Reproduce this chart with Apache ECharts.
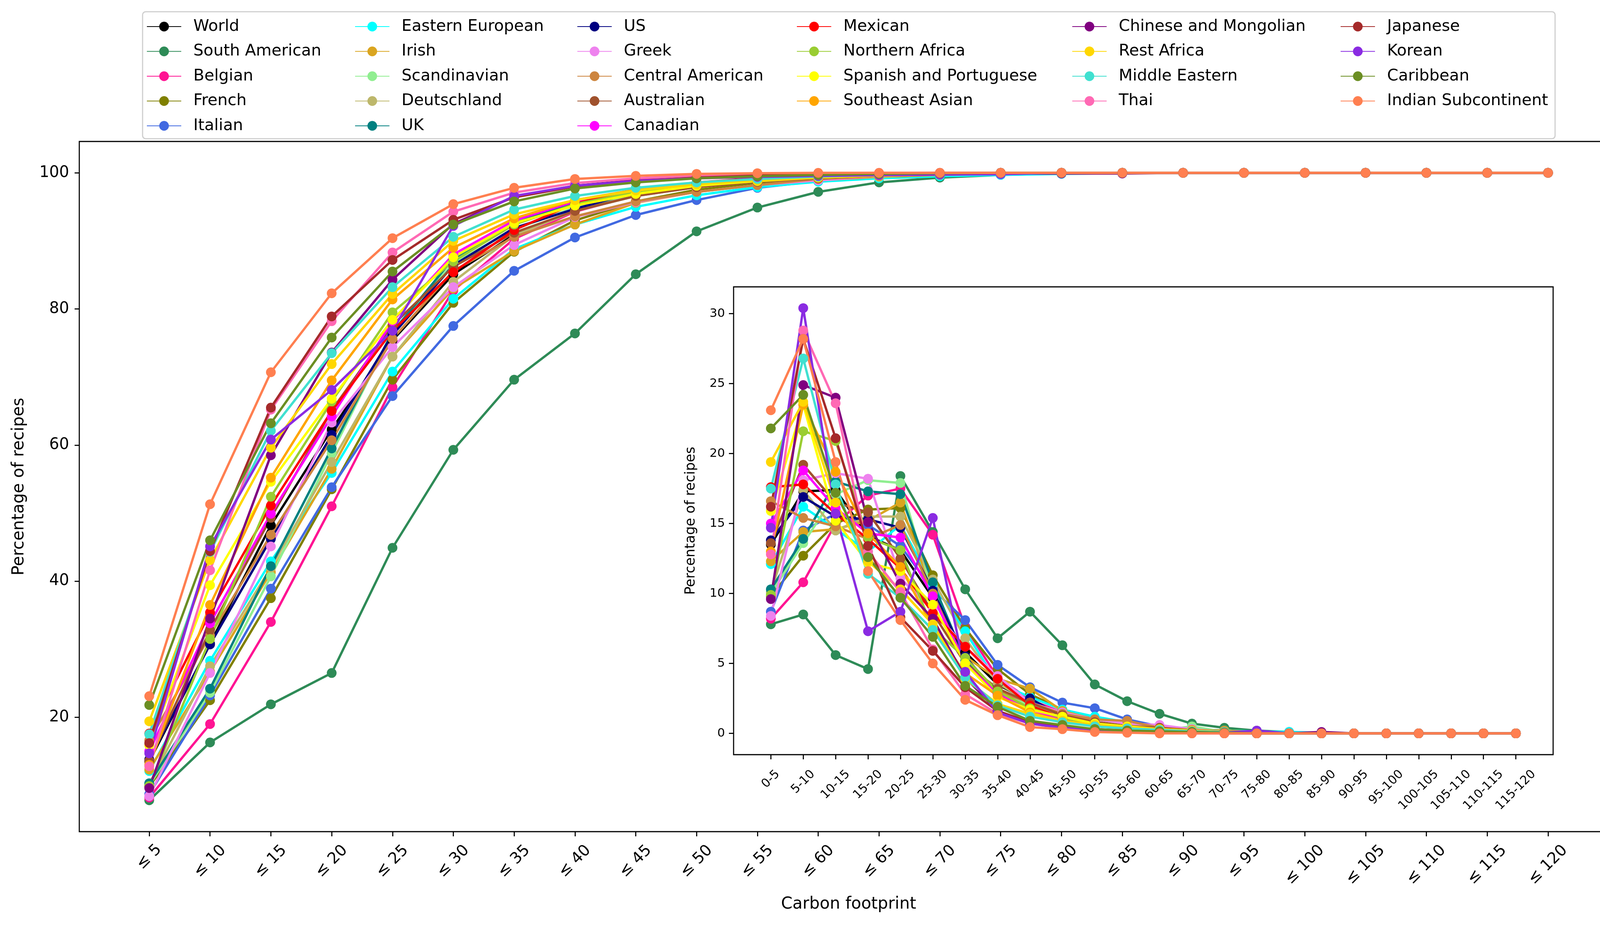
<!DOCTYPE html>
<html>
<head>
<meta charset="utf-8">
<script src="https://cdn.jsdelivr.net/npm/echarts@6/dist/echarts.min.js"></script>
<style>
html, body { margin: 0; padding: 0; background: #fff; }
#chart { width: 4172px; height: 2372px; }
</style>
</head>
<body>
<div id="chart"></div>
<script>
// x categories of the two panels
const cumLabels = ['≤ 5','≤ 10','≤ 15','≤ 20','≤ 25','≤ 30','≤ 35','≤ 40','≤ 45','≤ 50','≤ 55','≤ 60',
  '≤ 65','≤ 70','≤ 75','≤ 80','≤ 85','≤ 90','≤ 95','≤ 100','≤ 105','≤ 110','≤ 115','≤ 120'];
const binLabels = ['0-5','5-10','10-15','15-20','20-25','25-30','30-35','35-40','40-45','45-50','50-55','55-60',
  '60-65','65-70','70-75','75-80','80-85','85-90','90-95','95-100','100-105','105-110','110-115','115-120'];
const mainYTicks = [20, 40, 60, 80, 100];
const insetYTicks = [0, 5, 10, 15, 20, 25, 30];

const seriesNames = ['World','South American','Belgian','French','Italian','Eastern European','Irish',
  'Scandinavian','Deutschland','UK','US','Greek','Central American','Australian','Canadian','Mexican',
  'Northern Africa','Spanish and Portuguese','Southeast Asian','Chinese and Mongolian','Rest Africa',
  'Middle Eastern','Thai','Japanese','Korean','Caribbean','Indian Subcontinent'];
const seriesColors = ['#000000','#2E8B57','#FF1493','#808000','#4169E1','#00FFFF','#DAA520',
  '#90EE90','#BDB76B','#008080','#000080','#EE82EE','#CD853F','#A0522D','#FF00FF','#FF0000',
  '#9ACD32','#FFFF00','#FFA500','#800080','#FFD700',
  '#40E0D0','#FF69B4','#A52A2A','#8A2BE2','#6B8E23','#FF7F50'];

// cumulative share of recipes (main panel)
const worldCum   = [13.5,30.8,48.2,62.3,75.4,85.1,90.9,94.4,96.7,98.1,98.9,99.4,99.7,99.85,99.95,100,100,100,100,100,100,100,100,100];
const saCum      = [7.8,16.3,21.9,26.5,44.9,59.3,69.6,76.4,85.1,91.4,94.9,97.2,98.6,99.3,99.7,99.9,100,100,100,100,100,100,100,100];
const belgianCum = [8.2,19.0,34.0,51.0,68.5,82.7,90.3,94.3,96.7,98.2,99.0,99.5,99.8,99.9,100,100,100,100,100,100,100,100,100,100];
const frenchCum  = [9.8,22.5,37.5,53.5,69.6,80.9,88.4,93.0,95.8,97.5,98.5,99.1,99.5,99.7,99.85,99.95,100,100,100,100,100,100,100,100];
const italianCum = [8.7,23.2,38.9,53.8,67.2,77.5,85.6,90.5,93.8,96.0,97.8,98.8,99.3,99.6,99.8,99.9,100,100,100,100,100,100,100,100];
const eastCum    = [12.1,28.3,42.9,55.9,70.8,81.5,88.8,92.4,95.0,96.7,97.9,98.7,99.2,99.5,99.7,99.85,99.95,100,100,100,100,100,100,100];
const irishCum   = [12.3,26.7,41.3,56.5,73.0,83.0,88.5,92.4,95.6,97.2,98.2,98.9,99.4,99.7,99.9,100,100,100,100,100,100,100,100,100];
const scandCum   = [10.0,23.6,40.7,58.8,76.7,86.7,91.7,94.9,96.9,98.2,98.9,99.2,99.4,99.9,100,100,100,100,100,100,100,100,100,100];
const deutschCum = [10.1,27.5,42.0,57.5,73.0,84.0,90.8,94.4,96.6,97.9,98.7,99.2,99.6,99.8,99.9,100,100,100,100,100,100,100,100,100];
const ukCum      = [10.3,24.2,42.2,59.5,76.6,87.4,92.6,95.6,97.4,98.5,99.1,99.5,99.75,99.9,100,100,100,100,100,100,100,100,100,100];
const usCum      = [13.8,30.7,46.2,61.5,76.2,86.4,91.9,94.7,97.2,98.4,99.1,99.5,99.75,99.9,100,100,100,100,100,100,100,100,100,100];
const greekCum   = [8.4,26.5,45.1,63.3,74.4,83.2,89.4,93.5,95.7,97.2,98.2,98.9,99.5,99.8,99.9,100,100,100,100,100,100,100,100,100];
const centralCum = [16.6,32.0,46.8,60.7,75.6,85.6,90.6,93.6,95.8,97.2,98.2,99.1,99.5,99.75,99.9,100,100,100,100,100,100,100,100,100];
const austCum    = [13.6,32.8,49.3,65.1,77.6,86.2,91.2,94.4,96.6,97.9,98.7,99.2,99.6,99.8,99.9,100,100,100,100,100,100,100,100,100];
const canCum     = [15.0,33.8,49.9,64.2,78.2,88.0,93.0,95.8,97.5,98.5,99.1,99.5,99.75,99.9,100,100,100,100,100,100,100,100,100,100];
const mexCum     = [17.6,35.4,51.1,65.0,76.8,85.4,91.6,95.5,97.5,98.6,99.2,99.6,99.8,99.9,100,100,100,100,100,100,100,100,100,100];
const nafCum     = [9.9,31.5,52.4,66.4,79.5,87.0,92.4,95.4,97.2,98.3,99.0,99.45,99.75,99.9,100,100,100,100,100,100,100,100,100,100];
const spanCum    = [15.9,39.4,54.6,66.8,78.4,87.6,92.6,95.2,96.9,98.1,98.8,99.3,99.6,99.8,99.9,100,100,100,100,100,100,100,100,100];
const seaCum     = [13.0,36.5,55.2,69.5,81.4,89.0,93.3,96.0,97.5,98.4,99.0,99.4,99.7,99.85,99.95,100,100,100,100,100,100,100,100,100];
const chinaCum   = [9.6,34.5,58.5,73.6,84.3,92.5,96.5,98.1,98.9,99.3,99.55,99.7,99.8,99.85,99.9,99.9,99.9,100,100,100,100,100,100,100];
const restCum    = [19.4,43.1,59.6,71.9,82.2,90.0,93.9,96.0,97.4,98.3,98.9,99.3,99.6,99.8,99.9,100,100,100,100,100,100,100,100,100];
const meCum      = [17.5,44.3,62.1,73.5,83.2,90.6,94.6,96.6,97.8,98.6,99.1,99.45,99.7,99.85,99.95,100,100,100,100,100,100,100,100,100];
const thaiCum    = [12.8,41.6,65.2,78.2,88.3,94.3,97.1,98.5,99.2,99.6,99.8,99.9,100,100,100,100,100,100,100,100,100,100,100,100];
const japanCum   = [16.2,44.4,65.5,78.9,87.2,93.1,96.4,98.0,98.8,99.3,99.6,99.8,99.9,100,100,100,100,100,100,100,100,100,100,100];
const koreaCum   = [14.7,45.1,60.8,68.1,76.8,92.2,96.6,98.1,98.8,99.2,99.4,99.55,99.65,99.75,99.8,100,100,100,100,100,100,100,100,100];
const caribCum   = [21.8,46.0,63.2,75.8,85.5,92.4,95.8,97.7,98.6,99.2,99.5,99.7,99.85,99.95,100,100,100,100,100,100,100,100,100,100];
const indiaCum   = [23.1,51.3,70.7,82.3,90.4,95.4,97.8,99.1,99.55,99.85,99.95,100,100,100,100,100,100,100,100,100,100,100,100,100];

// share of recipes per 5-unit bin (inset)
const worldBin   = [13.5,17.3,17.4,14.1,13.1,9.7,5.8,3.5,2.3,1.4,0.8,0.5,0.3,0.15,0.1,0.05,0,0,0,0,0,0,0,0];
const saBin      = [7.8,8.5,5.6,4.6,18.4,14.4,10.3,6.8,8.7,6.3,3.5,2.3,1.4,0.7,0.4,0.2,0.1,0,0,0,0,0,0,0];
const belgianBin = [8.2,10.8,15.0,17.0,17.5,14.2,7.6,4.0,2.4,1.5,0.8,0.5,0.3,0.1,0.1,0,0,0,0,0,0,0,0,0];
const frenchBin  = [9.8,12.7,15.0,16.0,16.1,11.3,7.5,4.6,2.8,1.7,1.0,0.6,0.4,0.2,0.15,0.1,0.05,0,0,0,0,0,0,0];
const italianBin = [8.7,14.5,15.7,14.9,13.4,10.3,8.1,4.9,3.3,2.2,1.8,1.0,0.5,0.3,0.2,0.1,0.1,0,0,0,0,0,0,0];
const eastBin    = [12.1,16.2,14.6,13.0,14.9,10.7,7.3,3.6,2.6,1.7,1.2,0.8,0.5,0.3,0.2,0.15,0.1,0.05,0,0,0,0,0,0];
const irishBin   = [12.3,14.4,14.6,15.2,16.5,10.0,5.5,3.9,3.2,1.6,1.0,0.7,0.5,0.3,0.2,0.1,0,0,0,0,0,0,0,0];
const scandBin   = [10.0,13.6,17.1,18.1,17.9,10.0,5.0,3.2,2.0,1.3,0.7,0.3,0.2,0.5,0.1,0,0,0,0,0,0,0,0,0];
const deutschBin = [10.1,17.4,14.5,15.5,15.5,11.0,6.8,3.6,2.2,1.3,0.8,0.5,0.4,0.2,0.1,0.1,0,0,0,0,0,0,0,0];
const ukBin      = [10.3,13.9,18.0,17.3,17.1,10.8,5.2,3.0,1.8,1.1,0.6,0.4,0.25,0.15,0.1,0,0,0,0,0,0,0,0,0];
const usBin      = [13.8,16.9,15.5,15.3,14.7,10.2,5.5,2.8,2.5,1.2,0.7,0.4,0.25,0.15,0.1,0,0,0,0,0,0,0,0,0];
const greekBin   = [8.4,18.1,18.6,18.2,11.1,8.8,6.2,4.1,2.2,1.5,1.0,0.7,0.6,0.3,0.1,0.1,0,0,0,0,0,0,0,0];
const centralBin = [16.6,15.4,14.8,13.9,14.9,10.0,5.0,3.0,2.2,1.4,1.0,0.9,0.4,0.25,0.15,0.1,0,0,0,0,0,0,0,0];
const austBin    = [13.6,19.2,16.5,15.8,12.5,8.6,5.0,3.2,2.2,1.3,0.8,0.5,0.4,0.2,0.1,0.1,0,0,0,0,0,0,0,0];
const canBin     = [15.0,18.8,16.1,14.3,14.0,9.8,5.0,2.8,1.7,1.0,0.6,0.4,0.25,0.15,0.1,0,0,0,0,0,0,0,0,0];
const mexBin     = [17.6,17.8,15.7,13.9,11.8,8.6,6.2,3.9,2.0,1.1,0.6,0.4,0.2,0.1,0.1,0,0,0,0,0,0,0,0,0];
const nafBin     = [9.9,21.6,20.9,14.0,13.1,7.5,5.4,3.0,1.8,1.1,0.7,0.45,0.3,0.15,0.1,0,0,0,0,0,0,0,0,0];
const spanBin    = [15.9,23.5,15.2,12.2,11.6,9.2,5.0,2.6,1.7,1.2,0.7,0.5,0.3,0.2,0.1,0.1,0,0,0,0,0,0,0,0];
const seaBin     = [13.0,23.5,18.7,14.3,11.9,7.6,4.3,2.7,1.5,0.9,0.6,0.4,0.3,0.15,0.1,0.05,0,0,0,0,0,0,0,0];
const chinaBin   = [9.6,24.9,24.0,15.1,10.7,8.2,4.0,1.6,0.8,0.4,0.25,0.15,0.1,0.05,0.05,0,0,0.1,0,0,0,0,0,0];
const restBin    = [19.4,23.7,16.5,12.3,10.3,7.8,3.9,2.1,1.4,0.9,0.6,0.4,0.3,0.2,0.1,0.1,0,0,0,0,0,0,0,0];
const meBin      = [17.5,26.8,17.8,11.4,9.7,7.4,4.0,2.0,1.2,0.8,0.5,0.35,0.25,0.15,0.1,0.05,0,0,0,0,0,0,0,0];
const thaiBin    = [12.8,28.8,23.6,13.0,10.1,6.0,2.8,1.4,0.7,0.4,0.2,0.1,0.1,0,0,0,0,0,0,0,0,0,0,0];
const japanBin   = [16.2,28.2,21.1,13.4,8.3,5.9,3.3,1.6,0.8,0.5,0.3,0.2,0.1,0.1,0,0,0,0,0,0,0,0,0,0];
const koreaBin   = [14.7,30.4,15.7,7.3,8.7,15.4,4.4,1.5,0.7,0.4,0.2,0.15,0.1,0.1,0.05,0.2,0,0,0,0,0,0,0,0];
const caribBin   = [21.8,24.2,17.2,12.6,9.7,6.9,3.4,1.9,0.9,0.6,0.3,0.2,0.15,0.1,0.05,0,0,0,0,0,0,0,0,0];
const indiaBin   = [23.1,28.2,19.4,11.6,8.1,5.0,2.4,1.3,0.45,0.3,0.1,0.05,0,0,0,0,0,0,0,0,0,0,0,0];

const cumData = [worldCum, saCum, belgianCum, frenchCum, italianCum, eastCum, irishCum, scandCum,
  deutschCum, ukCum, usCum, greekCum, centralCum, austCum, canCum, mexCum, nafCum, spanCum, seaCum,
  chinaCum, restCum, meCum, thaiCum, japanCum, koreaCum, caribCum, indiaCum];
const binData = [worldBin, saBin, belgianBin, frenchBin, italianBin, eastBin, irishBin, scandBin,
  deutschBin, ukBin, usBin, greekBin, centralBin, austBin, canBin, mexBin, nafBin, spanBin, seaBin,
  chinaBin, restBin, meBin, thaiBin, japanBin, koreaBin, caribBin, indiaBin];

// legend columns, filled top to bottom like the original
const legendColumns = [
  ['World','South American','Belgian','French','Italian'],
  ['Eastern European','Irish','Scandinavian','Deutschland','UK'],
  ['US','Greek','Central American','Australian','Canadian'],
  ['Mexican','Northern Africa','Spanish and Portuguese','Southeast Asian'],
  ['Chinese and Mongolian','Rest Africa','Middle Eastern','Thai'],
  ['Japanese','Korean','Caribbean','Indian Subcontinent']
];
const legendLeft = [375, 908, 1477, 2039, 2744, 3431];

const FONT = 'DejaVu Sans';
const idx = cumLabels.map((_, i) => i);

// rotated labels: push longer ones down a bit, as matplotlib centres the rotated box
function shiftStyles(prefix, size, shifts) {
  const rich = {};
  shifts.forEach((d, k) => {
    const p = 1.414 * d;
    rich[prefix + k] = { fontSize: size, fontFamily: FONT, color: '#000', padding: [p, p, 0, 0] };
  });
  return rich;
}
const mainRich = shiftStyles('m', 40, [0, 0, 0, 0, 11, 20]);
const insetRich = shiftStyles('s', 31, [0, 0, 0, 0, 7, 14, 21, 28]);

const chart = echarts.init(document.getElementById('chart'), null, { width: 4172, height: 2372 });

const series = [];
seriesNames.forEach((name, i) => {
  const base = {
    type: 'line', name: name, color: seriesColors[i],
    symbol: 'circle', symbolSize: 25, showSymbol: true,
    lineStyle: { width: 6, color: seriesColors[i] },
    itemStyle: { color: seriesColors[i] },
    emphasis: { disabled: true }, animation: false
  };
  series.push(Object.assign({}, base, {
    xAxisIndex: 0, yAxisIndex: 0, data: cumData[i].map((v, k) => [k, v])
  }));
  series.push(Object.assign({}, base, {
    xAxisIndex: 1, yAxisIndex: 1, data: binData[i].map((v, k) => [k, v])
  }));
});

const tickStyle = { show: true, inside: false, length: 12, lineStyle: { color: '#000', width: 2.8 } };

chart.setOption({
  backgroundColor: '#ffffff',
  animation: false,
  graphic: [{
    type: 'rect', z: 0, silent: true,
    shape: { x: 365, y: 30, width: 3616, height: 325, r: 8 },
    style: { fill: '#ffffff', stroke: '#cfcfcf', lineWidth: 3 }
  }],
  legend: legendColumns.map((col, c) => ({
    orient: 'vertical', left: legendLeft[c], top: 47.5, padding: 0,
    itemWidth: 88, itemHeight: 31, itemGap: 22.5, selectedMode: false,
    data: col, formatter: n => '  ' + n,
    textStyle: { fontSize: 41, fontFamily: FONT, color: '#000', lineHeight: 31 }
  })),
  grid: [
    { left: 203, top: 362, width: 3939, height: 1766, show: true,
      borderColor: '#000', borderWidth: 2.8, backgroundColor: 'transparent', containLabel: false },
    { left: 1878, top: 734, width: 2098, height: 1197, show: true,
      borderColor: '#000', borderWidth: 2.8, backgroundColor: '#ffffff', containLabel: false }
  ],
  xAxis: [
    { type: 'value', gridIndex: 0, min: -1.15, max: 24.15,
      splitLine: { show: false }, axisLine: { show: false, onZero: false },
      axisTick: Object.assign({ customValues: idx }, tickStyle),
      axisLabel: {
        customValues: idx, rotate: 45, align: 'center', verticalAlign: 'middle', margin: 65,
        fontSize: 40, fontFamily: FONT, color: '#000', rich: mainRich,
        formatter: v => { const s = cumLabels[Math.round(v)]; return '{m' + s.length + '|' + s + '}'; }
      },
      name: 'Carbon footprint', nameLocation: 'middle', nameGap: 161,
      nameTextStyle: { fontSize: 42, fontFamily: FONT, color: '#000', lineHeight: 50 } },
    { type: 'value', gridIndex: 1, min: -1.15, max: 24.15,
      splitLine: { show: false }, axisLine: { show: false, onZero: false },
      axisTick: Object.assign({ customValues: idx }, tickStyle),
      axisLabel: {
        customValues: idx, rotate: 45, align: 'center', verticalAlign: 'middle', margin: 63,
        fontSize: 31, fontFamily: FONT, color: '#000', rich: insetRich,
        formatter: v => { const s = binLabels[Math.round(v)]; return '{s' + s.length + '|' + s + '}'; }
      } }
  ],
  yAxis: [
    { type: 'value', gridIndex: 0, min: 3.19, max: 104.61,
      splitLine: { show: false }, axisLine: { show: false, onZero: false },
      axisTick: Object.assign({ customValues: mainYTicks }, tickStyle),
      axisLabel: { customValues: mainYTicks, margin: 26, fontSize: 40, fontFamily: FONT, color: '#000' },
      name: 'Percentage of recipes', nameLocation: 'middle', nameGap: 129,
      nameTextStyle: { fontSize: 42, fontFamily: FONT, color: '#000', lineHeight: 50 } },
    { type: 'value', gridIndex: 1, min: -1.52, max: 31.92,
      splitLine: { show: false }, axisLine: { show: false, onZero: false },
      axisTick: Object.assign({ customValues: insetYTicks }, tickStyle),
      axisLabel: { customValues: insetYTicks, margin: 22, fontSize: 31, fontFamily: FONT, color: '#000' },
      name: 'Percentage of recipes', nameLocation: 'middle', nameGap: 88,
      nameTextStyle: { fontSize: 35, fontFamily: FONT, color: '#000', lineHeight: 42 } }
  ],
  series: series
});
</script>
</body>
</html>
